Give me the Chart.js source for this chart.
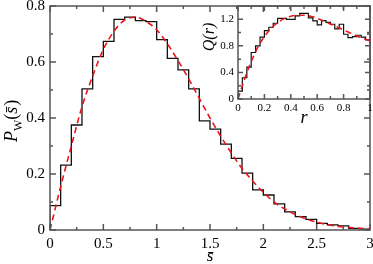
<!DOCTYPE html>
<html>
<head>
<meta charset="utf-8">
<script src="https://cdn.jsdelivr.net/npm/chart.js@4"></script>
<style>
  body { margin: 0; background: #fff; }
  #wrap { position: relative; width: 373px; height: 264px; }
  #wrap canvas { position: absolute; left: 0; top: 0; }
</style>
</head>
<body>
<div id="wrap">
  <canvas id="mainChart" width="373" height="264"></canvas>
  <canvas id="insetChart" width="373" height="264"></canvas>
</div>
<script>
// main panel: spacing histogram and Wigner curve
var sEdges = [0, 0.1, 0.2, 0.3, 0.4, 0.5, 0.6, 0.7, 0.8, 0.9, 1.0, 1.1, 1.2, 1.3, 1.4, 1.5,
  1.6, 1.7, 1.8, 1.9, 2.0, 2.1, 2.2, 2.3, 2.4, 2.5, 2.6, 2.7, 2.8, 2.9, 3.0];
var pHist = [0.087, 0.232, 0.375, 0.504, 0.619, 0.674, 0.752, 0.760, 0.748, 0.744,
  0.680, 0.613, 0.572, 0.504, 0.390, 0.360, 0.307, 0.256, 0.203, 0.143,
  0.125, 0.093, 0.065, 0.048, 0.038, 0.024, 0.018, 0.015, 0.006, 0.003];
var sCurve = sEdges;
var pCurve = [0, 0.155, 0.30, 0.44, 0.55, 0.645, 0.71, 0.75, 0.76, 0.745, 0.715, 0.665,
  0.605, 0.54, 0.47, 0.40, 0.335, 0.275, 0.22, 0.175, 0.135, 0.10, 0.075, 0.055,
  0.04, 0.028, 0.019, 0.013, 0.009, 0.006, 0.004];
var sMajor = [0, 0.5, 1, 1.5, 2, 2.5, 3];
var sMinor = [0.25, 0.75, 1.25, 1.75, 2.25, 2.75];
var pMajor = [0, 0.2, 0.4, 0.6, 0.8];
var pMinor = [0.1, 0.3, 0.5, 0.7];

// inset: ratio histogram and curve
var rEdges = [0, 0.033, 0.067, 0.1, 0.133, 0.167, 0.2, 0.233, 0.267, 0.3, 0.333, 0.367,
  0.4, 0.433, 0.467, 0.5, 0.533, 0.567, 0.6, 0.633, 0.667, 0.7, 0.733, 0.767, 0.8,
  0.833, 0.867, 0.9, 0.933, 0.967, 1.0];
var qHist = [0.12, 0.32, 0.48, 0.70, 0.80, 0.93, 1.03, 1.08, 1.14, 1.215, 1.215, 1.20,
  1.20, 1.25, 1.29, 1.29, 1.22, 1.175, 1.115, 1.18, 1.155, 1.125, 1.055, 1.125,
  0.975, 0.925, 0.94, 0.96, 0.93, 0.89];
var rCurve = [0, 0.05, 0.1, 0.15, 0.2, 0.25, 0.3, 0.35, 0.4, 0.45, 0.5, 0.55, 0.6, 0.65,
  0.7, 0.75, 0.8, 0.85, 0.9, 0.95, 1.0];
var qCurve = [0, 0.30, 0.56, 0.78, 0.94, 1.06, 1.15, 1.21, 1.245, 1.26, 1.26, 1.245,
  1.215, 1.175, 1.13, 1.085, 1.04, 0.995, 0.95, 0.91, 0.875];
var rMajor = [0, 0.2, 0.4, 0.6, 0.8, 1];
var rMinor = [0.1, 0.3, 0.5, 0.7, 0.9];
var qMajor = [0, 0.4, 0.8, 1.2];
var qMinor = [0.2, 0.6, 1.0];

var FRAME = '#555';
var RED = '#e8161c';
var SERIF = '"Liberation Serif", "DejaVu Serif", serif';

function histPoints(edges, vals) {
  var pts = [{x: edges[0], y: 0}];
  for (var i = 0; i < vals.length; i++) pts.push({x: edges[i], y: vals[i]});
  pts.push({x: edges[edges.length - 1], y: vals[vals.length - 1]});
  return pts;
}
function curvePoints(xs, ys) {
  return xs.map(function (x, i) { return {x: x, y: ys[i]}; });
}
function plainNum(v) { return String(+Number(v).toFixed(3)); }

// box with inward ticks on all four sides, plus the axis titles
var framePlugin = {
  id: 'frame',
  afterDraw: function (chart, args, o) {
    var ctx = chart.ctx, a = chart.chartArea, x = chart.scales.x, y = chart.scales.y;
    ctx.save();
    ctx.strokeStyle = FRAME;
    ctx.lineWidth = 1.5;
    ctx.strokeRect(a.left, a.top, a.right - a.left, a.bottom - a.top);
    ctx.beginPath();
    function xt(vals, len) {
      vals.forEach(function (v) {
        var px = x.getPixelForValue(v);
        ctx.moveTo(px, a.bottom); ctx.lineTo(px, a.bottom - len);
        ctx.moveTo(px, a.top); ctx.lineTo(px, a.top + len);
      });
    }
    function yt(vals, len) {
      vals.forEach(function (v) {
        var py = y.getPixelForValue(v);
        ctx.moveTo(a.left, py); ctx.lineTo(a.left + len, py);
        ctx.moveTo(a.right, py); ctx.lineTo(a.right - len, py);
      });
    }
    xt(o.xMajor, o.major); xt(o.xMinor, o.minor);
    yt(o.yMajor, o.major); yt(o.yMinor, o.minor);
    ctx.stroke();
    ctx.fillStyle = '#000';
    o.titles(ctx, a);
    ctx.restore();
  }
};

function fixedAxis(size) {
  return function (scale) {
    if (scale.isHorizontal()) scale.height = size; else scale.width = size;
    scale.paddingLeft = scale.paddingRight = scale.paddingTop = scale.paddingBottom = 0;
  };
}
function onlyTicks(vals) {
  return function (scale) { scale.ticks = vals.map(function (v) { return {value: v}; }); };
}

// main chart
new Chart(document.getElementById('mainChart').getContext('2d'), {
  type: 'line',
  data: {
    datasets: [{
      data: curvePoints(sCurve, pCurve),
      borderColor: RED,
      borderWidth: 1.6,
      borderDash: [6, 4],
      cubicInterpolationMode: 'monotone',
      pointRadius: 0
    }, {
      data: histPoints(sEdges, pHist),
      borderColor: '#111',
      borderWidth: 1.3,
      stepped: 'before',
      pointRadius: 0
    }]
  },
  options: {
    responsive: false,
    animation: false,
    layout: { padding: { top: 6, right: 3, left: 0, bottom: 0 } },
    plugins: {
      legend: { display: false },
      tooltip: { enabled: false },
      frame: {
        xMajor: sMajor, xMinor: sMinor, yMajor: pMajor, yMinor: pMinor,
        major: 6, minor: 3,
        titles: function (ctx, a) {
          // x title: s-bar
          ctx.font = 'italic 17px ' + SERIF;
          ctx.textAlign = 'center';
          ctx.textBaseline = 'alphabetic';
          ctx.fillText('s\u0304', (a.left + a.right) / 2, 261);
          // y title: P_W(s-bar)
          ctx.save();
          ctx.translate(0, 119);
          ctx.rotate(-Math.PI / 2);
          ctx.textAlign = 'left';
          var u = -23;
          ctx.font = 'italic 18px ' + SERIF;
          ctx.fillText('P', u, 17); u += ctx.measureText('P').width;
          ctx.font = '12px ' + SERIF;
          ctx.fillText('W', u, 22); u += ctx.measureText('W').width;
          ctx.font = '18px ' + SERIF;
          ctx.fillText('(', u, 17); u += ctx.measureText('(').width;
          ctx.font = 'italic 18px ' + SERIF;
          ctx.fillText('s\u0304', u, 17); u += ctx.measureText('s').width + 1;
          ctx.font = '18px ' + SERIF;
          ctx.fillText(')', u, 17);
          ctx.restore();
        }
      }
    },
    scales: {
      x: {
        type: 'linear', min: 0, max: 3,
        afterFit: fixedAxis(34), afterBuildTicks: onlyTicks(sMajor),
        grid: { display: false, drawTicks: false }, border: { display: false },
        ticks: { color: '#000', padding: 5, font: { family: SERIF, size: 15 }, maxRotation: 0, callback: plainNum }
      },
      y: {
        type: 'linear', min: 0, max: 0.8,
        afterFit: fixedAxis(50), afterBuildTicks: onlyTicks(pMajor),
        grid: { display: false, drawTicks: false }, border: { display: false },
        ticks: { color: '#000', padding: 5, font: { family: SERIF, size: 15 }, callback: plainNum }
      }
    }
  },
  plugins: [framePlugin]
});

// inset chart
new Chart(document.getElementById('insetChart').getContext('2d'), {
  type: 'line',
  data: {
    datasets: [{
      data: curvePoints(rCurve, qCurve),
      borderColor: RED,
      borderWidth: 1.6,
      borderDash: [6, 4],
      cubicInterpolationMode: 'monotone',
      pointRadius: 0
    }, {
      data: histPoints(rEdges, qHist),
      borderColor: '#111',
      borderWidth: 1.2,
      stepped: 'before',
      pointRadius: 0
    }]
  },
  options: {
    responsive: false,
    animation: false,
    layout: { padding: { top: 6, right: 3, left: 208, bottom: 145 } },
    plugins: {
      legend: { display: false },
      tooltip: { enabled: false },
      frame: {
        xMajor: rMajor, xMinor: rMinor, yMajor: qMajor, yMinor: qMinor,
        major: 5, minor: 3,
        titles: function (ctx, a) {
          ctx.font = 'italic 18px ' + SERIF;
          ctx.textAlign = 'center';
          ctx.textBaseline = 'alphabetic';
          ctx.fillText('r', (a.left + a.right) / 2, 123);
          ctx.save();
          ctx.translate(214, 37);
          ctx.rotate(-Math.PI / 2);
          ctx.font = 'italic 16px ' + SERIF;
          ctx.fillText('Q(r)', 0, 0);
          ctx.restore();
        }
      }
    },
    scales: {
      x: {
        type: 'linear', min: 0, max: 1,
        afterFit: fixedAxis(20), afterBuildTicks: onlyTicks(rMajor),
        grid: { display: false, drawTicks: false }, border: { display: false },
        ticks: { color: '#000', padding: 3, font: { family: SERIF, size: 11 }, maxRotation: 0, callback: plainNum }
      },
      y: {
        type: 'linear', min: 0, max: 1.4,
        afterFit: fixedAxis(30), afterBuildTicks: onlyTicks(qMajor),
        grid: { display: false, drawTicks: false }, border: { display: false },
        ticks: { color: '#000', padding: 4, font: { family: SERIF, size: 11 }, callback: plainNum }
      }
    }
  },
  plugins: [framePlugin]
});
</script>
</body>
</html>
